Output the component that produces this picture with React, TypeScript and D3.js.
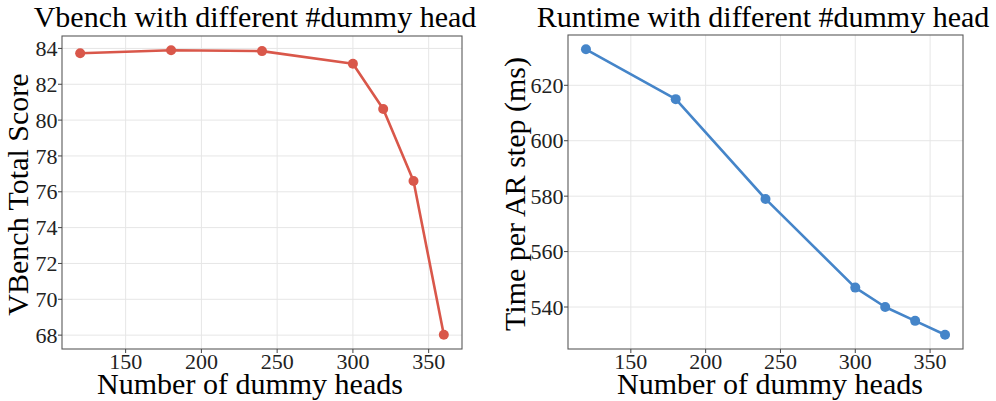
import React from "react";
import * as d3 from "d3";

const heads = [120, 180, 240, 300, 320, 340, 360];
const vbenchScores = [83.73, 83.9, 83.85, 83.15, 80.62, 76.6, 68.02];
const runtimes = [633, 615, 579, 547, 540, 535, 530];
const xTicks = [150, 200, 250, 300, 350];
const leftYTicks = [68, 70, 72, 74, 76, 78, 80, 82, 84];
const rightYTicks = [540, 560, 580, 600, 620];

const FONT = "'Liberation Serif', 'Times New Roman', serif";

type PanelProps = {
  left: number;
  right: number;
  top: number;
  bottom: number;
  values: number[];
  yTicks: number[];
  color: string;
  title: string;
  titleX: number;
  yTitle: string;
  yTitleX: number;
  xTitleX: number;
};

function expand(vals: number[]): [number, number] {
  const mn = d3.min(vals) as number;
  const mx = d3.max(vals) as number;
  const e = (mx - mn) * 0.05;
  return [mn - e, mx + e];
}

function Panel(p: PanelProps) {
  const x = d3.scaleLinear().domain(expand(heads)).range([p.left, p.right]);
  const y = d3.scaleLinear().domain(expand(p.values)).range([p.bottom, p.top]);
  const line = d3
    .line<number>()
    .x((_, i) => x(heads[i]))
    .y((d) => y(d));
  const pts = p.values.map((v, i) => ({ x: x(heads[i]), y: y(v) }));
  const yMid = (p.top + p.bottom) / 2 + 2;
  return (
    <g>
      {xTicks.map((t) => (
        <line key={"gx" + t} x1={x(t)} x2={x(t)} y1={p.top} y2={p.bottom} stroke="#e6e6e6" strokeWidth={1} />
      ))}
      {p.yTicks.map((t) => (
        <line key={"gy" + t} x1={p.left} x2={p.right} y1={y(t)} y2={y(t)} stroke="#e6e6e6" strokeWidth={1} />
      ))}
      <path d={line(p.values) || ""} fill="none" stroke={p.color} strokeWidth={2.6} strokeLinejoin="round" />
      {pts.map((d, i) => (
        <circle key={i} cx={d.x} cy={d.y} r={5} fill={p.color} />
      ))}
      <rect x={p.left} y={p.top} width={p.right - p.left} height={p.bottom - p.top} fill="none" stroke="#5a5a5a" strokeWidth={1.1} />
      {xTicks.map((t) => (
        <g key={"tx" + t}>
          <line x1={x(t)} x2={x(t)} y1={p.bottom} y2={p.bottom + 4} stroke="#444" strokeWidth={1} />
          <text x={x(t)} y={369} textAnchor="middle" fontSize={22} fontFamily={FONT} fill="#222">
            {t}
          </text>
        </g>
      ))}
      {p.yTicks.map((t) => (
        <g key={"ty" + t}>
          <line x1={p.left - 4} x2={p.left} y1={y(t)} y2={y(t)} stroke="#444" strokeWidth={1} />
          <text x={p.left - 4.5} y={y(t)} dy="0.35em" textAnchor="end" fontSize={22} fontFamily={FONT} fill="#222">
            {t}
          </text>
        </g>
      ))}
      <text x={p.titleX} y={27} textAnchor="middle" fontSize={30} fontFamily={FONT} fill="#000">
        {p.title}
      </text>
      <text x={p.xTitleX} y={394} textAnchor="middle" fontSize={30} fontFamily={FONT} fill="#000">
        Number of dummy heads
      </text>
      <text
        transform={`translate(${p.yTitleX},${yMid}) rotate(-90)`}
        textAnchor="middle"
        fontSize={30}
        fontFamily={FONT}
        fill="#000"
      >
        {p.yTitle}
      </text>
    </g>
  );
}

export default function App() {
  return (
    <svg width={996} height={401} style={{ position: "absolute", left: 0, top: 0, background: "#fff" }}>
      <rect width={996} height={401} fill="#fff" />
      <Panel
        left={62}
        right={462}
        top={36}
        bottom={349}
        values={vbenchScores}
        yTicks={leftYTicks}
        color="#D9574A"
        title="Vbench with different #dummy head"
        titleX={255}
        yTitle="VBench Total Score"
        yTitleX={28}
        xTitleX={250}
      />
      <Panel
        left={568}
        right={963}
        top={35}
        bottom={349}
        values={runtimes}
        yTicks={rightYTicks}
        color="#4585C9"
        title="Runtime with different #dummy head"
        titleX={763}
        yTitle="Time per AR step (ms)"
        yTitleX={525}
        xTitleX={770}
      />
    </svg>
  );
}
